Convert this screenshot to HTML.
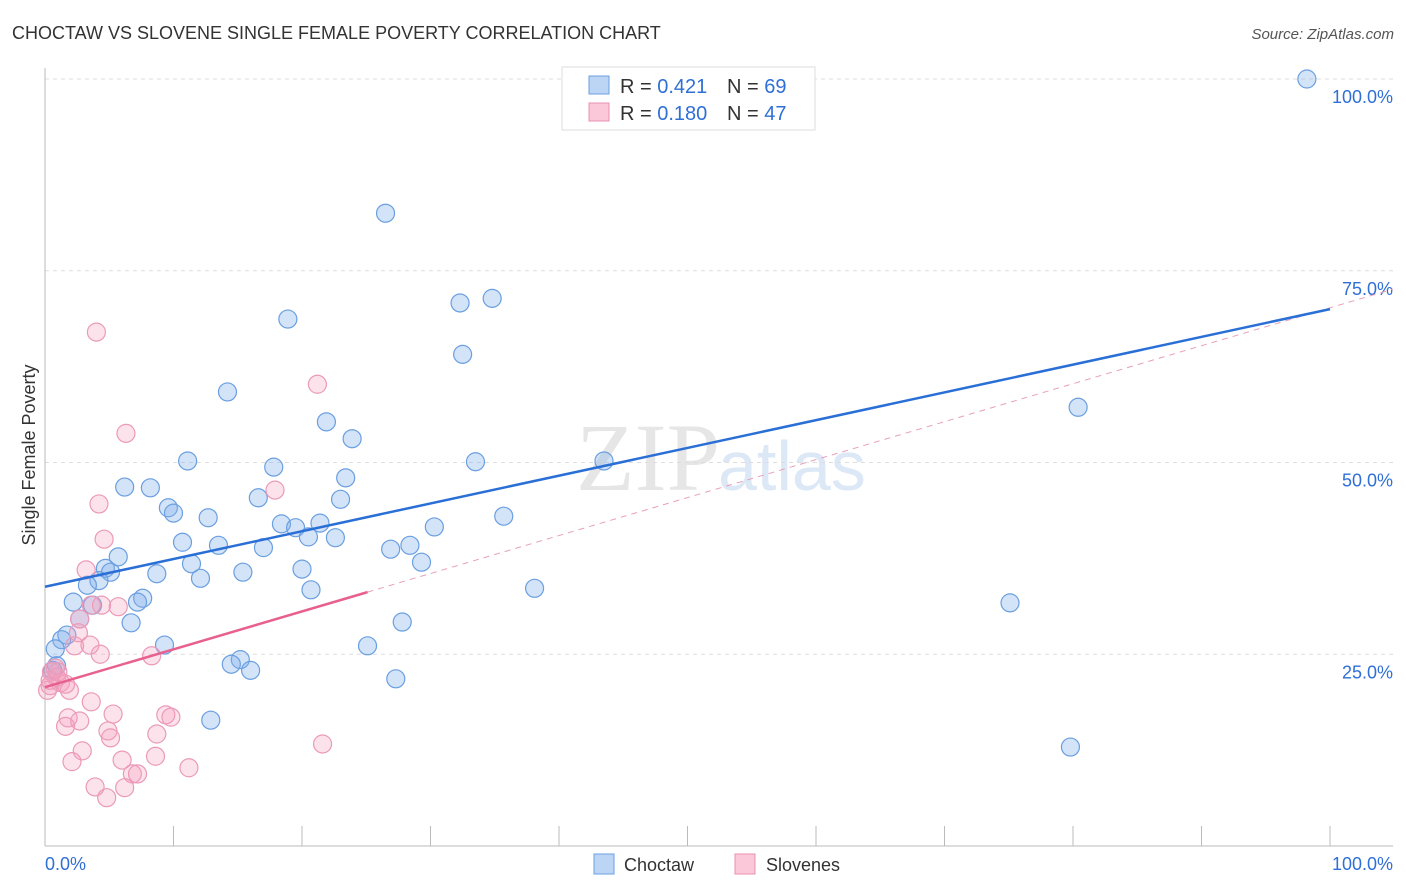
<!DOCTYPE html>
<html><head><meta charset="utf-8"><style>
body{margin:0;background:#fff;font-family:"Liberation Sans",sans-serif;}
</style></head><body>
<svg width="1406" height="892" style="display:block">
<text x="12" y="39" font-size="18" fill="#333">CHOCTAW VS SLOVENE SINGLE FEMALE POVERTY CORRELATION CHART</text>
<text x="1394" y="39" font-size="15" fill="#555" text-anchor="end" font-style="italic">Source: ZipAtlas.com</text>
<text x="720" y="490" font-size="96" fill="#e6e6e6" text-anchor="end" font-family="Liberation Serif">ZIP</text>
<text x="718" y="490" font-size="70" fill="#dce8f6">atlas</text>
<g id="grid"></g><g id="axes"></g><g id="pts"></g><g id="trend"></g>
<text x="35" y="455" font-size="18" fill="#333" text-anchor="middle" transform="rotate(-90 35 455)">Single Female Poverty</text>
<g>
<rect x="562" y="67" width="253" height="63" fill="#fff" stroke="#ddd"/>
<rect x="589" y="76" width="20" height="18" fill="#bcd5f5" stroke="#6a9fe0"/>
<rect x="589" y="103" width="20" height="18" fill="#fbc8da" stroke="#e890b0"/>
<text x="620" y="93" font-size="20" fill="#333">R = <tspan fill="#2f6fd6">0.421</tspan><tspan x="727">N = </tspan><tspan fill="#2f6fd6">69</tspan></text>
<text x="620" y="120" font-size="20" fill="#333">R = <tspan fill="#2f6fd6">0.180</tspan><tspan x="727">N = </tspan><tspan fill="#2f6fd6">47</tspan></text>
</g>
<g>
<rect x="594" y="854" width="20" height="20" fill="#bcd5f5" stroke="#6a9fe0"/>
<text x="624" y="871" font-size="18" fill="#333">Choctaw</text>
<rect x="735" y="854" width="20" height="20" fill="#fbc8da" stroke="#e890b0"/>
<text x="766" y="871" font-size="18" fill="#333">Slovenes</text>
</g>
</svg>
<script>
const blueX=[98.2,26.5,34.8,32.3,18.9,32.5,80.4,14.2,21.9,23.9,11.1,33.5,43.5,17.8,6.2,8.2,23.4,9.6,10.0,23.0,16.6,12.7,35.7,21.4,18.4,19.5,30.3,20.5,22.6,10.7,13.5,17.0,26.9,5.7,28.4,29.3,4.7,5.1,11.4,15.4,20.0,8.7,12.1,4.2,3.3,20.7,38.1,7.6,7.2,2.2,3.7,2.7,6.7,27.8,1.7,1.3,0.8,9.3,25.1,15.2,14.5,16.0,0.9,27.3,75.1,12.9,79.8,45.4,0.6];
const blueY=[100.0,82.5,71.4,70.8,68.7,64.1,57.2,59.2,55.3,53.1,50.2,50.1,50.2,49.4,46.8,46.7,48.0,44.1,43.4,45.2,45.4,42.8,43.0,42.1,42.0,41.5,41.6,40.3,40.2,39.6,39.2,38.9,38.7,37.7,39.2,37.0,36.2,35.7,36.8,35.7,36.1,35.5,34.9,34.6,34.0,33.4,33.6,32.3,31.8,31.8,31.4,29.6,29.1,29.2,27.5,26.9,25.7,26.2,26.1,24.3,23.7,22.9,23.5,21.8,31.7,16.4,12.9,97.7,22.9];
const pinkX=[4.0,21.2,6.3,4.2,17.9,4.6,3.2,5.7,4.4,3.6,2.7,2.6,2.3,3.5,4.3,8.3,0.8,0.5,0.9,1.2,1.6,0.4,0.2,1.9,3.6,5.3,9.4,9.8,1.8,2.7,1.6,4.9,5.1,8.7,2.9,21.6,8.6,2.1,6.0,6.8,7.2,11.2,3.9,6.2,4.8,0.4,1.0];
const pinkY=[67.0,60.2,53.8,44.6,46.4,40.0,36.0,31.2,31.4,31.4,29.6,27.8,26.1,26.2,25.0,24.8,23.2,22.7,22.0,21.3,21.1,20.9,20.3,20.3,18.8,17.2,17.1,16.8,16.7,16.3,15.6,15.0,14.1,14.6,12.4,13.3,11.7,11.0,11.2,9.4,9.4,10.2,7.7,7.6,6.3,21.6,22.7];
const blueTrend=[0,33.8,100,70.0];
const pinkTrend=[0,20.7,25.1,33.1,104.9,72.6];
const yTicks=[25,50,75,100];
const NS="http://www.w3.org/2000/svg";
const sx=v=>45+v*12.85, sy=v=>846-v*7.67;
function mk(t,a,p){const e=document.createElementNS(NS,t);for(const k in a)e.setAttribute(k,a[k]);document.getElementById(p).appendChild(e);return e;}
yTicks.forEach(t=>{
 const l=mk('line',{x1:45,x2:1393,y1:sy(t),y2:sy(t),stroke:'#ddd','stroke-dasharray':'4,4'},'grid');
 
 
 const tx=mk('text',{x:1393,y:sy(t)+24,'font-size':18,fill:'#2f6fd6','text-anchor':'end'},'grid');
 tx.textContent=t.toFixed(1)+'%';
 
 
});
let a=mk('line',{x1:45,x2:45,y1:68,y2:846,stroke:'#bbb'},'axes');

a=mk('line',{x1:45,x2:1393,y1:846,y2:846,stroke:'#bbb'},'axes');

for(let i=1;i<=10;i++){const t=mk('line',{x1:sx(i*10),x2:sx(i*10),y1:826,y2:846,stroke:'#bbb'},'axes');
 }
[[0,'0.0%','start',45],[100,'100.0%','end',1393]].forEach(d=>{const t=mk('text',{x:d[3],y:870,'font-size':18,fill:'#2f6fd6','text-anchor':d[2]},'axes');t.textContent=d[1];
 });
blueX.forEach((v,i)=>{const c=mk('circle',{cx:sx(v),cy:sy(blueY[i]),r:9,fill:'rgba(130,175,235,0.35)',stroke:'#6a9fe0','stroke-width':1.2},'pts');
 });
pinkX.forEach((v,i)=>{const c=mk('circle',{cx:sx(v),cy:sy(pinkY[i]),r:9,fill:'rgba(245,160,190,0.3)',stroke:'#eb9ab8','stroke-width':1.2},'pts');
 });
let l=mk('line',{x1:sx(pinkTrend[2]),y1:sy(pinkTrend[3]),x2:sx(pinkTrend[4]),y2:sy(pinkTrend[5]),stroke:'#e8a0b8','stroke-dasharray':'6,5'},'trend');

l=mk('line',{x1:sx(blueTrend[0]),y1:sy(blueTrend[1]),x2:sx(blueTrend[2]),y2:sy(blueTrend[3]),stroke:'#2a6fd6','stroke-width':2.5},'trend');

l=mk('line',{x1:sx(pinkTrend[0]),y1:sy(pinkTrend[1]),x2:sx(pinkTrend[2]),y2:sy(pinkTrend[3]),stroke:'#e8608e','stroke-width':2.5},'trend');

</script>
</body></html>
